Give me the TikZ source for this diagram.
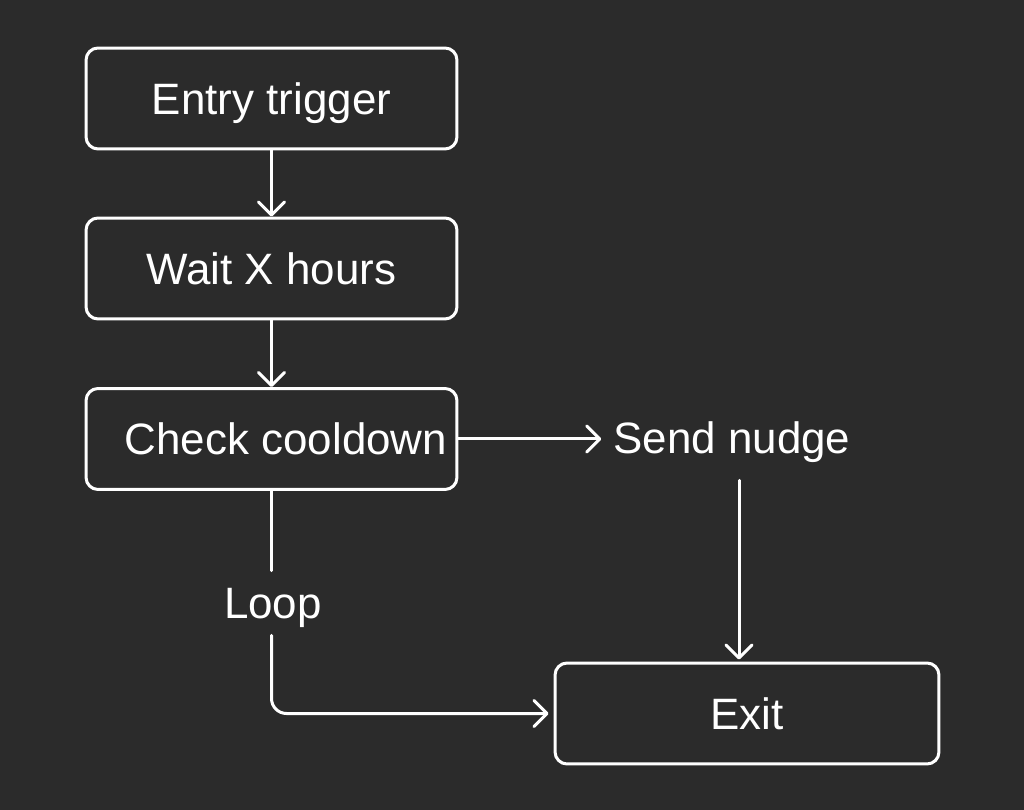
\documentclass[tikz,border=0pt]{standalone}
\usepackage{fontspec}
\setmainfont{Liberation Sans}
\usetikzlibrary{arrows.meta}
\definecolor{bg}{HTML}{2B2B2B}
\begin{document}
\begin{tikzpicture}[x=0.02cm,y=-0.02cm,
  every node/.style={text=white,font=\fontsize{25}{30}\selectfont,text height=17.9pt,text depth=0pt},
  flowbox/.style={draw=white,line width=0.06cm,rounded corners=0.24cm,fill=bg,minimum width=7.42cm,minimum height=2.02cm,inner sep=0pt},
  link/.style={draw=white,line width=0.06cm,line cap=round},
  arr/.style={link,-{Straight Barb[length=0.26cm,width=0.52cm,line width=0.06cm,round]}}]
\fill[bg] (0,0) rectangle (1024,810);
\useasboundingbox (0,0) rectangle (1024,810);
\node[flowbox] (entry) at (271.5,98.5) {Entry trigger};
\node[flowbox] (wait) at (271.5,268.5) {Wait X hours};
\node[flowbox] (check) at (271.5,439) {};
\node[inner sep=0pt] (checktxt) at (286,439) {Check cooldown};
\node[inner xsep=0.24cm,inner ysep=0pt,minimum height=1.68cm] (send) at (732,438) {Send nudge};
\node[inner sep=0pt,minimum height=1.28cm] (loop) at (273,603) {Loop};
\node[flowbox,minimum width=7.68cm] (exit) at (747,713.5) {Exit};
\draw[arr] (entry.south) -- (wait.north);
\draw[arr] (wait.south) -- (check.north);
\draw[arr] (check.east) -- (check.east -| send.west);
\draw[arr] ([xshift=0.14cm]send.south) -- ([xshift=0.14cm,yshift=0.04cm]send.south |- exit.north);
\draw[link] (check.south) -- (loop.north -| check.south);
\draw[arr,rounded corners=0.3cm] (loop.south -| check.south) |- ([xshift=-0.1cm]exit.west);
\end{tikzpicture}
\end{document}
